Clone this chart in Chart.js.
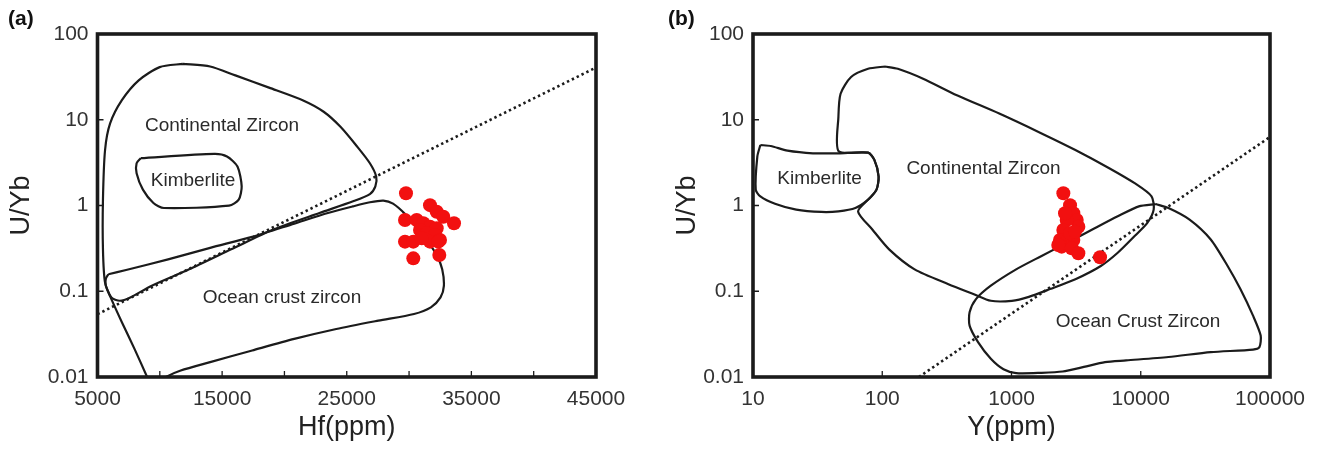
<!DOCTYPE html>
<html>
<head>
<meta charset="utf-8">
<script src="https://cdn.jsdelivr.net/npm/chart.js@4.4.1/dist/chart.umd.min.js"></script>
<style>
  body { margin: 0; background: #fff; }
  #wrap { position: relative; width: 1325px; height: 451px; }
  #chartA { position: absolute; left: 0; top: 0; }
  #chartB { position: absolute; left: 660px; top: 0; }
</style>
</head>
<body>
<div id="wrap">
  <canvas id="chartA" width="660" height="451"></canvas>
  <canvas id="chartB" width="665" height="451"></canvas>
</div>
<script>
// ---- (a) Hf vs U/Yb ----
const hfTicks = [5000, 10000, 15000, 20000, 25000, 30000, 35000, 40000, 45000];
const uybTicks = [0.01, 0.1, 1, 10, 100];

const hfContinental = [
  [11847, 44.9], [14040, 41.8], [16063, 32.9], [18762, 23.7], [21460, 16.9], [23147, 12.4],
  [24496, 8.28], [25845, 4.85], [26857, 3.11], [27363, 2.18], [27296, 1.67], [26857, 1.36],
  [25508, 1.12], [22809, 0.818], [19099, 0.525], [15726, 0.308], [12353, 0.180], [9317, 0.1155],
  [7631, 0.0847], [6788, 0.0775], [6113, 0.0847], [5607, 0.126], [5438, 0.308], [5438, 1.17],
  [5607, 4.44], [6012, 9.05], [6956, 16.9], [8306, 28.8], [9992, 41.1], [11847, 44.9]
];
const hfKimberlite = [
  [8474, 3.56], [14377, 3.99], [15389, 3.72], [16232, 2.85], [16569, 1.67], [16333, 1.17],
  [15557, 0.995], [10329, 0.935], [9486, 1.07], [8643, 1.53], [8137, 2.38], [8137, 3.11], [8474, 3.56]
];
const hfOcean = [
  [5877, 0.158], [7294, 0.177], [10667, 0.235], [14040, 0.321], [17413, 0.431], [20786, 0.615],
  [23484, 0.818], [25508, 0.978], [26857, 1.09], [27937, 1.14], [28713, 1.05], [29724, 0.783],
  [30736, 0.525], [31580, 0.367], [32254, 0.258], [32659, 0.180], [32794, 0.1155], [32524, 0.0847],
  [31749, 0.0649], [30399, 0.0543], [27532, 0.0454], [24159, 0.0363], [20786, 0.0278], [17413, 0.0204],
  [14040, 0.0149], [11679, 0.0119], [10498, 0.0100], [9992, 0.0087], [9149, 0.0087], [8980, 0.0100],
  [7968, 0.0213], [6956, 0.0435], [6113, 0.0809], [5675, 0.1155], [5675, 0.1406], [5877, 0.158]
];
const hfDivider = [[5000, 0.054], [45000, 40.6]];
const hfSamples = [
  [29754, 1.39], [31680, 1.01], [32218, 0.847], [32747, 0.740], [33606, 0.620], [29674, 0.678],
  [30613, 0.678], [31142, 0.620], [31680, 0.566], [32218, 0.542], [30878, 0.518], [31415, 0.474],
  [32081, 0.453], [32482, 0.396], [29674, 0.379], [30340, 0.379], [31680, 0.379], [32346, 0.379],
  [32426, 0.265], [30340, 0.242], [31014, 0.415]
];
const hfFieldNames = ['Continental Zircon', 'Kimberlite', 'Ocean crust zircon'];
const hfFieldAt = [[14990, 8.45], [12663, 1.93], [19806, 0.0834]];

// ---- (b) Y vs U/Yb ----
const yTicks = [10, 100, 1000, 10000, 100000];

const yKimberlite = [
  [11.4, 5.07], [13.7, 4.94], [18.5, 4.36], [29.1, 4.06], [45.8, 4.06], [77.7, 4.13], [86.9, 3.40],
  [93.7, 2.18], [90.3, 1.53], [77.7, 1.17], [61.9, 0.935], [45.8, 0.855], [33.9, 0.841], [21.6, 0.895],
  [14.8, 1.05], [11.4, 1.28], [10.5, 1.53], [10.8, 3.72], [11.4, 5.07]
];
const yContinental = [
  [105, 41.8], [132, 39.3], [207, 30.1], [378, 19.3], [804, 11.8], [1709, 6.93], [3121, 4.44],
  [5703, 2.72], [8970, 1.82], [12120, 1.28], [12590, 0.895], [11240, 0.627], [8970, 0.440],
  [6637, 0.281], [4910, 0.197], [3121, 0.138], [1986, 0.106], [1362, 0.0861], [1007, 0.0774],
  [692, 0.0774], [512, 0.0924], [325, 0.121], [178, 0.180], [113, 0.308], [83.8, 0.525], [65, 0.85],
  [77.7, 1.17], [90.3, 1.53], [93.7, 2.18], [86.9, 3.40], [77.7, 4.13], [46, 4.3], [45.8, 10.8],
  [47.6, 20.1], [57.4, 31.5], [77.7, 39.3], [105, 41.8]
];
const yOcean = [
  [13060, 1.04], [16380, 0.935], [23860, 0.685], [34800, 0.402], [47000, 0.197], [59000, 0.106],
  [73900, 0.0519], [84700, 0.0304], [82800, 0.0223], [73900, 0.0209], [34800, 0.0195], [16380, 0.0171],
  [7710, 0.0156], [5290, 0.0149], [3630, 0.0131], [2488, 0.0116], [1709, 0.0112], [1086, 0.0111],
  [867, 0.0123], [692, 0.0163], [551, 0.0255], [474, 0.0397], [474, 0.0568], [531, 0.0809],
  [692, 0.116], [1086, 0.180], [1709, 0.258], [2685, 0.367], [4220, 0.525], [6637, 0.748],
  [9670, 0.978], [13060, 1.04]
];
const yDivider = [[192, 0.01], [100000, 6.3]];
const ySamples = [
  [2518, 1.39], [2838, 1.01], [3009, 0.811], [3196, 0.678], [3290, 0.566], [2673, 0.678],
  [2518, 0.518], [2373, 0.396], [2673, 0.379], [3009, 0.396], [2838, 0.474], [2594, 0.811],
  [2445, 0.331], [2924, 0.317], [3290, 0.277], [4842, 0.249], [3097, 0.495], [2301, 0.346]
];
const yFieldNames = ['Continental Zircon', 'Kimberlite', 'Ocean Crust Zircon'];
const yFieldAt = [[607, 2.67], [32.7, 2.05], [9530, 0.0443]];

const INK = '#1b1b1b';
const FONT = "'Liberation Sans', Arial, sans-serif";

function toPts(arr) { return arr.map(p => ({ x: p[0], y: p[1] })); }

function outline(arr) {
  return {
    type: 'scatter', data: toPts(arr), showLine: true, pointRadius: 0,
    borderColor: INK, borderWidth: 2.2, tension: 0.25, order: 2
  };
}

// frame, inward ticks, field names and panel letter
function decorPlugin(letter, names, spots) {
  return {
    id: 'decor',
    afterDatasetsDraw(chart) {
      const { ctx, chartArea: a, scales: { x, y } } = chart;
      ctx.save();
      ctx.fillStyle = '#2a2a2a';
      ctx.font = '19px ' + FONT;
      ctx.textAlign = 'center';
      ctx.textBaseline = 'middle';
      names.forEach((n, i) => {
        ctx.fillText(n, x.getPixelForValue(spots[i][0]), y.getPixelForValue(spots[i][1]));
      });
      ctx.strokeStyle = INK;
      ctx.lineWidth = 1.3;
      ctx.beginPath();
      x.ticks.forEach(t => {
        const px = x.getPixelForValue(t.value);
        ctx.moveTo(px, a.bottom); ctx.lineTo(px, a.bottom - 6);
      });
      y.ticks.forEach(t => {
        const py = y.getPixelForValue(t.value);
        ctx.moveTo(a.left, py); ctx.lineTo(a.left + 6, py);
      });
      ctx.stroke();
      ctx.lineWidth = 3.6;
      ctx.strokeRect(a.left, a.top, a.right - a.left, a.bottom - a.top);
      ctx.fillStyle = '#111';
      ctx.font = 'bold 21px ' + FONT;
      ctx.textAlign = 'left';
      ctx.fillText(letter, 8, 19);
      ctx.restore();
    }
  };
}

function makeChart(id, cfg) {
  return new Chart(document.getElementById(id), {
    data: {
      datasets: [
        { type: 'scatter', data: toPts(cfg.samples), pointRadius: 7, pointBackgroundColor: '#f21010',
          pointBorderWidth: 0, order: 0 },
        ...cfg.fields.map(outline),
        { type: 'scatter', data: toPts(cfg.divider), showLine: true, pointRadius: 0, borderColor: INK,
          borderWidth: 2.6, borderDash: [2.4, 3], order: 3 }
      ]
    },
    options: {
      responsive: false,
      animation: false,
      events: [],
      layout: { padding: cfg.pad },
      plugins: { legend: { display: false }, tooltip: { enabled: false } },
      scales: {
        x: {
          type: cfg.xType, min: cfg.xTicks[0], max: cfg.xTicks[cfg.xTicks.length - 1],
          afterBuildTicks: s => { s.ticks = cfg.xTicks.map(v => ({ value: v })); },
          afterFit: s => { s.height = 74; },
          grid: { display: false, drawTicks: false },
          border: { display: false },
          ticks: { autoSkip: false, maxRotation: 0, padding: 10, color: '#333',
            font: { family: FONT, size: 21 }, callback: cfg.xLabel },
          title: { display: true, text: cfg.xTitle, color: '#222', padding: { top: 0, bottom: 7 },
            font: { family: FONT, size: 27 } }
        },
        y: {
          type: 'logarithmic', min: 0.01, max: 100,
          afterBuildTicks: s => { s.ticks = uybTicks.map(v => ({ value: v })); },
          afterFit: s => { s.width = cfg.yWidth; },
          grid: { display: false, drawTicks: false },
          border: { display: false },
          ticks: { autoSkip: false, padding: 9, color: '#333', font: { family: FONT, size: 21 },
            callback: v => String(v) },
          title: { display: true, text: 'U/Yb', color: '#222', padding: { top: cfg.yTitlePad, bottom: 0 },
            font: { family: FONT, size: 27 } }
        }
      }
    },
    plugins: [decorPlugin(cfg.letter, cfg.names, cfg.spots)]
  });
}

makeChart('chartA', {
  samples: hfSamples, fields: [hfContinental, hfKimberlite, hfOcean], divider: hfDivider,
  pad: { top: 34, right: 64, left: 0, bottom: 0 }, xType: 'linear', xTicks: hfTicks,
  xLabel: v => ((v - 5000) % 10000 === 0 ? String(v) : ''), xTitle: 'Hf(ppm)',
  yWidth: 97.5, yTitlePad: 5, letter: '(a)', names: hfFieldNames, spots: hfFieldAt
});

makeChart('chartB', {
  samples: ySamples, fields: [yKimberlite, yContinental, yOcean], divider: yDivider,
  pad: { top: 34, right: 55, left: 0, bottom: 0 }, xType: 'logarithmic', xTicks: yTicks,
  xLabel: v => String(v), xTitle: 'Y(ppm)',
  yWidth: 93, yTitlePad: 11, letter: '(b)', names: yFieldNames, spots: yFieldAt
});
</script>
</body>
</html>
